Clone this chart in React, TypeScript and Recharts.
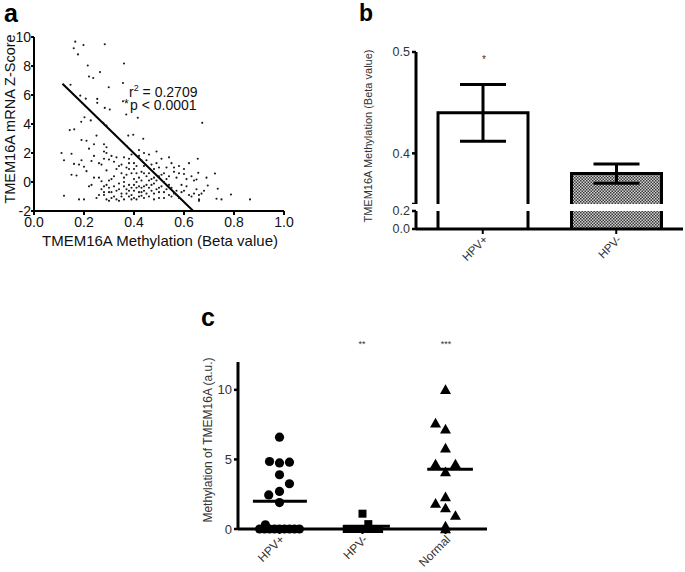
import React from 'react';
import {
  ScatterChart,
  Scatter,
  XAxis,
  YAxis,
  ReferenceLine,
  BarChart,
  Bar,
  ErrorBar,
  Cell,
} from 'recharts';

const FONT = '"Liberation Sans", Arial, Helvetica, sans-serif';

// ---------- Panel a: methylation vs mRNA z-score ----------
const betaValues: number[] = [
  0.165, 0.198, 0.283, 0.159, 0.176, 0.215, 0.264, 0.36, 0.22, 0.237, 0.146, 0.299, 0.356, 0.185, 0.207,
  0.253, 0.253, 0.283, 0.303, 0.356, 0.369, 0.202, 0.189, 0.227, 0.415, 0.277, 0.143, 0.161, 0.377, 0.397,
  0.437, 0.673, 0.29,
  0.11, 0.12, 0.15, 0.16, 0.18, 0.2, 0.19, 0.15, 0.17, 0.21, 0.12, 0.18, 0.2, 0.23, 0.22, 0.24, 0.23, 0.22,
  0.21, 0.19, 0.24, 0.25, 0.25, 0.24,
  0.26, 0.27, 0.28, 0.29, 0.28, 0.3, 0.31, 0.29, 0.28, 0.32, 0.33, 0.27, 0.26, 0.29, 0.28, 0.3, 0.28, 0.29,
  0.3, 0.31, 0.32, 0.33, 0.34, 0.3, 0.31, 0.33, 0.34, 0.35, 0.28, 0.27, 0.32, 0.31, 0.33, 0.34, 0.29, 0.26,
  0.35, 0.34, 0.3, 0.32,
  0.35, 0.36, 0.38, 0.37, 0.39, 0.4, 0.42, 0.43, 0.44, 0.36, 0.37, 0.38, 0.39, 0.4, 0.41, 0.42, 0.43, 0.44,
  0.36, 0.37, 0.38, 0.39, 0.4, 0.41, 0.42, 0.43, 0.44, 0.45, 0.36, 0.38, 0.4, 0.41, 0.42, 0.43, 0.44, 0.45,
  0.37, 0.39, 0.41, 0.43, 0.35, 0.36, 0.38, 0.4, 0.42, 0.44, 0.45, 0.39, 0.41, 0.43, 0.38, 0.4, 0.37, 0.42,
  0.44, 0.45,
  0.46, 0.47, 0.48, 0.49, 0.5, 0.46, 0.47, 0.48, 0.49, 0.5, 0.51, 0.52, 0.53, 0.54, 0.46, 0.47, 0.48, 0.49,
  0.5, 0.51, 0.52, 0.53, 0.54, 0.55, 0.46, 0.48, 0.5, 0.52, 0.53, 0.54, 0.55, 0.51, 0.49, 0.47, 0.46, 0.48,
  0.5, 0.52, 0.54, 0.55,
  0.56, 0.57, 0.58, 0.6, 0.62, 0.655, 0.657, 0.56, 0.57, 0.58, 0.6, 0.61, 0.62, 0.64, 0.65, 0.66, 0.67,
  0.695, 0.63, 0.59, 0.61, 0.63, 0.57, 0.59, 0.66, 0.64, 0.56, 0.58, 0.6, 0.65,
  0.73, 0.735, 0.724, 0.788, 0.864, 0.75, 0.68, 0.69, 0.66,
];
const zScores: number[] = [
  9.68, 9.45, 9.5, 9.22, 8.8, 8.03, 7.58, 8.17, 7.28, 7.17, 6.71, 6.53, 6.83, 5.96, 5.75,
  5.73, 5.46, 5.11, 5.0, 5.57, 4.66, 4.47, 4.15, 4.25, 4.43, 4.09, 3.58, 3.63, 3.2, 3.26,
  2.98, 4.08, 3.9,
  2.0, 1.5, 1.95, 1.25, 1.2, 1.05, 1.5, 0.5, 0.45, 0.75, -0.95, -1.2, -1.2, -0.2, -0.3, 1.8, 1.45, 2.3,
  2.85, 2.9, 2.6, 3.2, -1.1, 0.3,
  1.3, 1.2, 2.1, 2.0, 1.6, 1.55, 1.8, 2.4, 2.6, 1.4, 0.9, 0.05, 0.3, -0.2, -0.3, -0.4, -0.9, -1.2,
  -1.3, -0.7, -1.0, -0.6, -0.1, -0.7, -1.1, -1.2, -1.3, -0.8, -0.7, -0.5, 0.4, 0.2, 1.7, 1.1, 0.8, -0.9,
  0.6, -0.5, 0.1, -0.3,
  1.2, 1.7, 1.6, 1.0, 0.6, 1.3, 1.8, 1.5, 1.1, -1.2, -0.5, -0.2, -0.9, -1.1, -0.4, -0.7, -0.95, -0.3,
  0.3, -0.8, 0.9, -0.4, 0.2, 0.6, -1.0, 0.1, -0.6, 0.4, -0.3, -1.0, -0.6, -1.2, 0.3, -0.4, -1.1, -0.8,
  0.5, 1.9, 1.1, 0.7, -1.0, 0.0, -0.6, -0.2, -0.3, 0.6, -0.2, -1.2, 0.0, -0.7, 1.3, 0.9, 2.5, 2.2,
  2.0, 1.5,
  1.9, 1.2, 0.9, 1.3, 1.0, 0.6, -0.2, -0.8, -0.5, -1.1, -0.3, -0.7, 0.2, -0.9, -1.0, -0.6, 0.3, 0.1,
  -0.4, 0.5, 0.0, -0.5, 0.4, -0.4, -0.4, -1.2, 0.4, -1.1, 1.0, 1.7, 1.3, 1.6, 2.1, 0.2, 0.1, -0.1,
  -0.7, 0.6, -0.2, -1.0,
  0.7, 0.3, 0.6, 0.55, 1.3, 1.6, 0.63, -0.8, -0.6, -1.1, -0.6, -0.3, -0.9, -0.8, -0.5, -1.2, -0.8,
  -0.24, -1.0, -0.2, 0.2, 0.4, -0.9, -0.7, -0.9, 0.1, 1.0, 1.1, 0.9, 0.17,
  -1.16, -0.47, 0.59, -0.86, -1.2, -1.2, -0.6, 0.3, -1.3,
];
const aXTicks = [0, 0.2, 0.4, 0.6, 0.8, 1.0];
const aYTicks = [-2, 0, 2, 4, 6, 8, 10];
const regressionStart = { x: 0.114, y: 6.78 };
const regressionEnd = { x: 0.637, y: -2 };

// ---------- Panel b: bar chart with broken axis ----------
const bGroups = ['HPV+', 'HPV-'];
const bMeans = [0.44, 0.38];
const bSem = [0.028, 0.0095];
const bUpperTicks = [0.35, 0.4, 0.5];
const bLowerTicks = [0, 0.2];

// ---------- Panel c: dot plot ----------
const cGroups = ['HPV+', 'HPV-', 'Normal'];
const hpvPosVals = [6.6, 4.85, 4.75, 4.8, 3.9, 3.25, 2.7, 2.45, 1.9, 0.3, 0, 0, 0, 0, 0, 0, 0, 0, 0];
const hpvPosJitter = [0, -0.12, 0, 0.12, 0, 0.12, 0, -0.13, 0, -0.17, -0.24, -0.18, -0.12, -0.06, 0, 0.06, 0.12, 0.18, 0.24];
const hpvNegVals = [1.1, 0.35, 0, 0, 0, 0, 0, 0];
const hpvNegJitter = [0, 0.07, -0.19, -0.11, -0.03, 0.04, 0.12, 0.2];
const normalVals = [10.0, 7.6, 7.16, 5.8, 4.66, 4.66, 4.1, 2.3, 1.83, 1.5, 0.96, 0.2, 0.0];
const normalJitter = [0, -0.12, 0, 0, -0.12, 0.12, 0, 0, -0.12, 0, 0.12, 0, 0];
const cMedians = [2.0, 0.2, 4.3];
const cMedianSpan = [
  [-0.32, 0.33],
  [-0.23, 0.33],
  [-0.22, 0.33],
];
const cYTicks = [0, 5, 10];

const scatterA = betaValues.map((b, i) => ({ x: b, y: zScores[i] }));
const barData = bGroups.map((g, i) => ({ name: g, mean: bMeans[i], sem: bSem[i] }));
const toDots = (vals: number[], jit: number[], idx: number) =>
  vals.map((v, i) => ({ x: idx + 0.5 + jit[i], y: v }));
const cPos = toDots(hpvPosVals, hpvPosJitter, 0);
const cNeg = toDots(hpvNegVals, hpvNegJitter, 1);
const cNorm = toDots(normalVals, normalJitter, 2);

const Dot = (p: any) => <circle cx={p.cx} cy={p.cy} r={1.05} fill="#1a1a1a" />;
const BigCircle = (p: any) => <circle cx={p.cx} cy={p.cy} r={4.6} fill="#000" />;
const BigSquare = (p: any) => <rect x={p.cx - 4} y={p.cy - 4} width={8} height={8} fill="#000" />;
const BigTriangle = (p: any) => (
  <polygon points={`${p.cx},${p.cy - 5.5} ${p.cx - 5.5},${p.cy + 4.2} ${p.cx + 5.5},${p.cy + 4.2}`} fill="#000" />
);

const OpenBar = (p: any) => {
  const { x, y, width, height, fill } = p;
  if (height == null || isNaN(height)) return null;
  return (
    <g>
      <rect x={x} y={y} width={width} height={height} fill={fill} />
      <path
        d={`M${x},${y + height} L${x},${y} L${x + width},${y} L${x + width},${y + height}`}
        fill="none"
        stroke="#000"
        strokeWidth={3}
      />
    </g>
  );
};

const RotTick = (fontSize: number, labels: (v: any) => string) => (p: any) => {
  const { x, y, payload } = p;
  return (
    <g transform={`translate(${x},${y})`}>
      <text
        x={0}
        y={0}
        dy={7}
        dx={1}
        textAnchor="end"
        transform="rotate(-45)"
        fontSize={fontSize}
        fontFamily={FONT}
        fill="#333"
      >
        {labels(payload.value)}
      </text>
    </g>
  );
};

const barFills = ['#ffffff', 'url(#hatchPattern)'];

export default function App() {
  return (
    <div style={{ position: 'absolute', left: 0, top: 0, width: 685, height: 572, background: '#fff', fontFamily: FONT }}>
      <svg width={0} height={0} style={{ position: 'absolute' }}>
        <defs>
          <pattern id="hatchPattern" width={3} height={3} patternUnits="userSpaceOnUse">
            <rect x={0} y={0} width={3} height={3} fill="#d0d0d0" />
            <rect x={0} y={0} width={1.5} height={1.5} fill="#3a3a3a" />
            <rect x={1.5} y={1.5} width={1.5} height={1.5} fill="#3a3a3a" />
          </pattern>
        </defs>
      </svg>

      {/* Panel a */}
      <div style={{ position: 'absolute', left: 0, top: 0 }}>
        <ScatterChart width={302} height={259} margin={{ top: 37, right: 18, bottom: 0, left: 0 }}>
          <XAxis
            type="number"
            dataKey="x"
            domain={[0, 1]}
            ticks={aXTicks}
            tickFormatter={(v: number) => v.toFixed(1)}
            height={48}
            axisLine={{ stroke: '#000', strokeWidth: 2 }}
            tickLine={{ stroke: '#000', strokeWidth: 2 }}
            tickSize={4}
            interval={0}
            tick={{ fontSize: 14, fill: '#111', fontFamily: FONT }}
            allowDataOverflow
          />
          <YAxis
            type="number"
            dataKey="y"
            domain={[-2, 10]}
            ticks={aYTicks}
            width={34}
            axisLine={{ stroke: '#000', strokeWidth: 2 }}
            tickLine={{ stroke: '#000', strokeWidth: 2 }}
            tickSize={3}
            tickMargin={0}
            interval={0}
            tick={{ fontSize: 14, fill: '#111', fontFamily: FONT }}
            allowDataOverflow
          />
          <Scatter data={scatterA} shape={Dot} isAnimationActive={false} />
          <ReferenceLine
            segment={[regressionStart, regressionEnd]}
            stroke="#000"
            strokeWidth={2}
          />
        </ScatterChart>
      </div>

      {/* Panel b upper segment */}
      <div style={{ position: 'absolute', left: 340, top: 42 }}>
        <BarChart width={345} height={162} data={barData} margin={{ top: 10, right: 2, bottom: 0, left: 0 }} barCategoryGap={0}>
          <XAxis dataKey="name" hide />
          <YAxis
            type="number"
            domain={[0.35, 0.5]}
            ticks={bUpperTicks}
            allowDataOverflow
            interval={0}
            width={76}
            axisLine={{ stroke: '#000', strokeWidth: 3 }}
            tickLine={{ stroke: '#000', strokeWidth: 2.5 }}
            tickSize={4}
            tickMargin={2}
            tickFormatter={(v: number) => (v === 0.35 ? '' : v.toFixed(1))}
            tick={{ fontSize: 12.5, fill: '#333', fontFamily: FONT }}
          />
          <Bar dataKey="mean" barSize={90} shape={OpenBar} isAnimationActive={false}>
            {barData.map((d, i) => (
              <Cell key={d.name} fill={barFills[i]} />
            ))}
            <ErrorBar dataKey="sem" width={23} stroke="#000" strokeWidth={3} />
          </Bar>
        </BarChart>
      </div>

      {/* Panel b lower segment */}
      <div style={{ position: 'absolute', left: 340, top: 203 }}>
        <BarChart width={345} height={76} data={barData} margin={{ top: 8, right: 2, bottom: 0, left: 0 }}>
          <XAxis
            dataKey="name"
            height={50}
            axisLine={{ stroke: '#000', strokeWidth: 3 }}
            tickLine={{ stroke: '#000', strokeWidth: 2 }}
            tickSize={5}
            interval={0}
            tick={RotTick(11.5, (v) => String(v))}
          />
          <YAxis
            type="number"
            domain={[0, 0.2]}
            ticks={bLowerTicks}
            allowDataOverflow
            interval={0}
            width={76}
            axisLine={{ stroke: '#000', strokeWidth: 3 }}
            tickLine={{ stroke: '#000', strokeWidth: 2.5 }}
            tickSize={4}
            tickMargin={2}
            tickFormatter={(v: number) => v.toFixed(1)}
            tick={{ fontSize: 12.5, fill: '#333', fontFamily: FONT }}
          />
          <Bar dataKey="mean" barSize={90} shape={OpenBar} isAnimationActive={false}>
            {barData.map((d, i) => (
              <Cell key={d.name} fill={barFills[i]} />
            ))}
          </Bar>
        </BarChart>
      </div>

      {/* Panel c */}
      <div style={{ position: 'absolute', left: 180, top: 352 }}>
        <ScatterChart width={312} height={227} margin={{ top: 10, right: 5, bottom: 0, left: 0 }}>
          <XAxis
            type="number"
            dataKey="x"
            domain={[0, 3]}
            ticks={[0.5, 1.5, 2.5]}
            height={50}
            axisLine={{ stroke: '#000', strokeWidth: 3 }}
            tickLine={{ stroke: '#000', strokeWidth: 2 }}
            tickSize={5}
            interval={0}
            tick={RotTick(12, (v) => cGroups[Math.floor(v)])}
          />
          <YAxis
            type="number"
            dataKey="y"
            domain={[0, 12]}
            ticks={cYTicks}
            interval={0}
            width={58}
            axisLine={{ stroke: '#000', strokeWidth: 3 }}
            tickLine={{ stroke: '#000', strokeWidth: 2.5 }}
            tickSize={4}
            tickMargin={2}
            tick={{ fontSize: 13, fill: '#333', fontFamily: FONT }}
          />
          <Scatter data={cPos} shape={BigCircle} isAnimationActive={false} />
          <Scatter data={cNeg} shape={BigSquare} isAnimationActive={false} />
          <Scatter data={cNorm} shape={BigTriangle} isAnimationActive={false} />
          {cMedians.map((m, i) => (
            <ReferenceLine
              key={cGroups[i]}
              segment={[
                { x: i + 0.5 + cMedianSpan[i][0], y: m },
                { x: i + 0.5 + cMedianSpan[i][1], y: m },
              ]}
              stroke="#000"
              strokeWidth={3}
            />
          ))}
        </ScatterChart>
      </div>

      {/* Text overlay */}
      <svg width={685} height={572} style={{ position: 'absolute', left: 0, top: 0, pointerEvents: 'none' }} fontFamily={FONT}>
        <text x={4} y={22} fontSize={25} fontWeight="bold" fill="#000">a</text>
        <text x={359} y={21} fontSize={23} fontWeight="bold" fill="#000">b</text>
        <text x={201} y={326} fontSize={25} fontWeight="bold" fill="#000">c</text>

        <text x={15} y={119} fontSize={14.5} fill="#111" textAnchor="middle" transform="rotate(-90 15 119)">
          TMEM16A mRNA Z-Score
        </text>
        <text x={160} y={246} fontSize={15} fill="#111" textAnchor="middle">
          TMEM16A Methylation (Beta value)
        </text>
        <text x={129} y={97} fontSize={14} fill="#111">
          r<tspan fontSize={9} dy={-6}>2</tspan>
          <tspan dy={6}> = 0.2709</tspan>
        </text>
        <text x={124} y={108} fontSize={12} fill="#111">*</text>
        <text x={130} y={110} fontSize={14} fill="#111">p &lt; 0.0001</text>

        <text x={372} y={136} fontSize={11} fill="#333" textAnchor="middle" transform="rotate(-90 372 136)">
          TMEM16A Methylation (Beta value)
        </text>
        <text x={484} y={63} fontSize={10} fill="#333" textAnchor="middle">*</text>

        <text x={212} y={440} fontSize={12} fill="#333" textAnchor="middle" transform="rotate(-90 212 440)">
          Methylation of TMEM16A (a.u.)
        </text>
        <text x={362} y={347} fontSize={9} fill="#333" textAnchor="middle">**</text>
        <text x={446} y={347} fontSize={9} fill="#333" textAnchor="middle">***</text>
      </svg>
    </div>
  );
}
